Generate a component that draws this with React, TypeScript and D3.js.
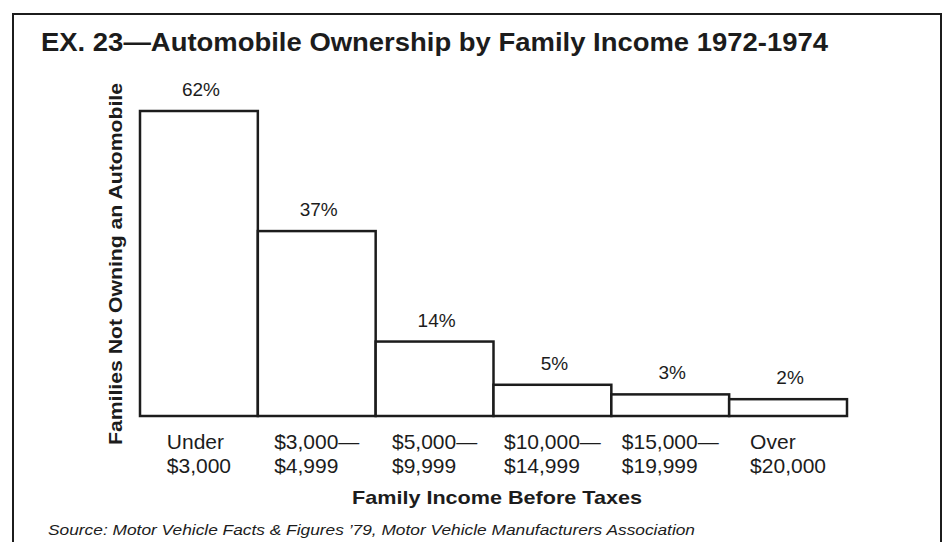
import React, { useEffect, useRef } from "react";
import * as d3 from "d3";

const titleText = "EX. 23\u2014Automobile Ownership by Family Income 1972-1974";
const yAxisTitle = "Families Not Owning an Automobile";
const xAxisTitle = "Family Income Before Taxes";
const sourceText = "Source: Motor Vehicle Facts & Figures \u201979, Motor Vehicle Manufacturers Association";

const categoryKeys = ["u3000", "3000-4999", "5000-9999", "10000-14999", "15000-19999", "o20000"];
const labelLine1 = ["Under", "$3,000\u2014", "$5,000\u2014", "$10,000\u2014", "$15,000\u2014", "Over"];
const labelLine2 = ["$3,000", "$4,999", "$9,999", "$14,999", "$19,999", "$20,000"];
const values = [62, 37, 14, 5, 3, 2];

const W = 943;
const H = 542;
const FONT = "'Liberation Sans', Arial, Helvetica, sans-serif";
const INK = "#1c1c1c";

export default function App() {
  const ref = useRef<SVGSVGElement | null>(null);

  useEffect(() => {
    document.body.style.margin = "0";
    const svg = d3.select(ref.current);
    svg.selectAll("*").remove();

    svg.append("rect").attr("x", 0).attr("y", 0).attr("width", W).attr("height", H).attr("fill", "#ffffff");

    // frame
    svg
      .append("path")
      .attr("d", `M13,${H} L13,14 L941,14 L941,${H}`)
      .attr("fill", "none")
      .attr("stroke", INK)
      .attr("stroke-width", 2);

    // title
    svg
      .append("text")
      .attr("x", 41)
      .attr("y", 51)
      .attr("font-family", FONT)
      .attr("font-weight", "bold")
      .attr("font-size", 25)
      .attr("fill", INK)
      .attr("textLength", 787)
      .attr("lengthAdjust", "spacingAndGlyphs")
      .text(titleText);

    const x = d3.scaleBand<string>().domain(categoryKeys).range([140, 847]).paddingInner(0).paddingOuter(0);
    const y = d3.scaleLinear().domain([-1.5, 62]).range([416, 111]);

    const data = categoryKeys.map((k, i) => ({ key: k, v: values[i], l1: labelLine1[i], l2: labelLine2[i] }));

    // bars
    svg
      .append("g")
      .selectAll("rect")
      .data(data)
      .join("rect")
      .attr("x", (d) => x(d.key)!)
      .attr("y", (d) => y(d.v))
      .attr("width", x.bandwidth())
      .attr("height", (d) => y(-1.5) - y(d.v))
      .attr("fill", "#ffffff")
      .attr("stroke", INK)
      .attr("stroke-width", 2.5);

    // value labels
    svg
      .append("g")
      .selectAll("text")
      .data(data)
      .join("text")
      .attr("x", (d) => x(d.key)! + x.bandwidth() / 2 + 2)
      .attr("y", (d) => y(d.v) - 15)
      .attr("text-anchor", "middle")
      .attr("font-family", FONT)
      .attr("font-size", 19)
      .attr("fill", INK)
      .text((d) => `${d.v}%`);

    // category labels (two lines, left aligned, block centred on bar)
    const cat = svg.append("g");
    data.forEach((d) => {
      const t = cat
        .append("text")
        .attr("font-family", FONT)
        .attr("font-size", 21)
        .attr("fill", INK)
        .attr("y", 449);
      t.append("tspan").attr("x", 0).attr("y", 449).text(d.l1);
      t.append("tspan").attr("x", 0).attr("y", 473).text(d.l2);
      const node = t.node() as SVGTextElement;
      const w = node.getBBox().width;
      const cx = x(d.key)! + x.bandwidth() / 2;
      t.attr("transform", `translate(${cx - w / 2},0)`);
    });

    // y axis title
    svg
      .append("text")
      .attr("transform", `translate(122,264) rotate(-90)`)
      .attr("text-anchor", "middle")
      .attr("font-family", FONT)
      .attr("font-weight", "bold")
      .attr("font-size", 19)
      .attr("fill", INK)
      .attr("textLength", 362)
      .attr("lengthAdjust", "spacingAndGlyphs")
      .text(yAxisTitle);

    // x axis title
    svg
      .append("text")
      .attr("x", 352)
      .attr("y", 504)
      .attr("font-family", FONT)
      .attr("font-weight", "bold")
      .attr("font-size", 19)
      .attr("fill", INK)
      .attr("textLength", 290)
      .attr("lengthAdjust", "spacingAndGlyphs")
      .text(xAxisTitle);

    // source
    svg
      .append("text")
      .attr("x", 48)
      .attr("y", 535)
      .attr("font-family", FONT)
      .attr("font-style", "italic")
      .attr("font-size", 14)
      .attr("fill", INK)
      .attr("textLength", 647)
      .attr("lengthAdjust", "spacingAndGlyphs")
      .text(sourceText);
  }, []);

  return (
    <svg
      ref={ref}
      width={W}
      height={H}
      viewBox={`0 0 ${W} ${H}`}
      style={{ position: "absolute", left: 0, top: 0, display: "block" }}
    />
  );
}
